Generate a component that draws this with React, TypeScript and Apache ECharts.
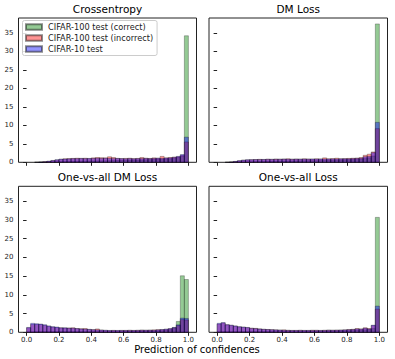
import React, { useEffect, useRef } from "react";
import * as echarts from "echarts";

// ---- data (density histograms, 40 bins over [0, 1]) ----
const BIN_COUNT = 40;
const PANEL_TITLES = ["Crossentropy", "DM Loss", "One-vs-all DM Loss", "One-vs-all Loss"];
const SERIES_NAMES = ["CIFAR-100 test (correct)", "CIFAR-100 test (incorrect)", "CIFAR-10 test"];
const X_TICKS = [0, 0.2, 0.4, 0.6, 0.8, 1.0];
const Y_TICKS = [0, 5, 10, 15, 20, 25, 30, 35];
const X_LABEL = "Prediction of confidences";

const CE_CORRECT = [
  0, 0, 0, 0.02, 0.05, 0.08, 0.1, 0.12,
  0.15, 0.18, 0.2, 0.22, 0.25, 0.27, 0.3, 0.32,
  0.34, 0.36, 0.38, 0.4, 0.42, 0.45, 0.48, 0.5,
  0.52, 0.55, 0.58, 0.6, 0.64, 0.68, 0.72, 0.76,
  0.8, 0.85, 0.9, 0.95, 1.1, 1.3, 1.7, 34.2,
];
const CE_INCORRECT = [
  0, 0, 0.01, 0.04, 0.12, 0.25, 0.45, 0.65,
  0.8, 0.95, 1.0, 1.05, 1.1, 1.05, 1.1, 1.0,
  1.2, 1.3, 1.25, 1.2, 1.5, 1.3, 1.05, 1.0,
  1.05, 1.1, 1.0, 1.05, 1.3, 1.1, 1.05, 1.2,
  1.1, 1.6, 1.2, 1.3, 1.4, 1.5, 1.9, 5.5,
];
const CE_CIFAR10 = [
  0, 0, 0.02, 0.05, 0.15, 0.3, 0.5, 0.7,
  0.85, 0.9, 0.95, 1.0, 1.0, 1.05, 1.0, 1.05,
  1.05, 1.1, 1.05, 1.1, 1.05, 1.0, 1.05, 1.0,
  0.95, 1.0, 0.95, 1.0, 1.0, 1.05, 1.0, 1.05,
  1.1, 1.05, 1.15, 1.2, 1.35, 1.6, 2.1, 6.8,
];

const DM_CORRECT = [
  0, 0, 0, 0.02, 0.05, 0.08, 0.1, 0.12,
  0.14, 0.16, 0.18, 0.2, 0.22, 0.24, 0.26, 0.28,
  0.3, 0.32, 0.34, 0.36, 0.38, 0.4, 0.42, 0.44,
  0.46, 0.48, 0.5, 0.52, 0.55, 0.58, 0.62, 0.66,
  0.7, 0.75, 0.8, 0.9, 1.0, 1.2, 1.7, 37.4,
];
const DM_INCORRECT = [
  0, 0, 0.01, 0.06, 0.2, 0.4, 0.55, 0.65,
  0.7, 0.75, 0.8, 0.75, 0.85, 0.8, 0.9, 0.85,
  0.9, 0.95, 0.85, 0.9, 0.85, 0.95, 0.9, 0.85,
  0.95, 0.9, 1.2, 0.95, 1.0, 1.1, 0.95, 1.0,
  1.05, 1.1, 1.15, 1.3, 1.9, 2.2, 2.8, 9.1,
];
const DM_CIFAR10 = [
  0, 0, 0.02, 0.08, 0.25, 0.45, 0.6, 0.7,
  0.72, 0.75, 0.75, 0.78, 0.8, 0.8, 0.8, 0.82,
  0.85, 0.85, 0.82, 0.85, 0.85, 0.88, 0.85, 0.9,
  0.88, 0.9, 0.88, 0.9, 0.92, 0.9, 0.95, 0.95,
  0.95, 1.0, 1.05, 1.1, 1.5, 1.6, 2.6, 10.8,
];

const OVADM_CORRECT = [
  0.05, 0.1, 0.12, 0.15, 0.15, 0.15, 0.15, 0.15,
  0.15, 0.15, 0.15, 0.15, 0.15, 0.15, 0.15, 0.15,
  0.15, 0.15, 0.15, 0.15, 0.15, 0.15, 0.15, 0.18,
  0.2, 0.2, 0.22, 0.22, 0.25, 0.25, 0.28, 0.3,
  0.35, 0.4, 0.5, 0.7, 1.2, 2.9, 15.1, 14.1,
];
const OVADM_INCORRECT = [
  1.2, 2.1, 2.1, 2.1, 1.9, 1.6, 1.4, 1.3,
  1.2, 1.15, 1.15, 1.2, 1.0, 0.95, 1.0, 0.75,
  0.7, 0.9, 0.6, 0.5, 0.45, 0.5, 0.45, 0.5,
  0.5, 0.55, 0.5, 0.55, 0.6, 0.55, 0.6, 0.65,
  0.7, 0.7, 0.8, 0.95, 1.2, 1.8, 3.4, 3.3,
];
const OVADM_CIFAR10 = [
  1.3, 2.4, 2.3, 2.2, 2.0, 1.7, 1.5, 1.4,
  1.2, 1.2, 1.1, 1.1, 1.0, 0.9, 0.85, 0.8,
  0.7, 0.65, 0.6, 0.55, 0.5, 0.5, 0.5, 0.5,
  0.5, 0.5, 0.5, 0.5, 0.55, 0.55, 0.55, 0.55,
  0.65, 0.75, 0.85, 1.0, 1.3, 2.0, 3.8, 3.7,
];

const OVA_CORRECT = [
  0.1, 0.15, 0.15, 0.15, 0.15, 0.15, 0.15, 0.15,
  0.15, 0.15, 0.15, 0.15, 0.15, 0.15, 0.15, 0.15,
  0.15, 0.15, 0.15, 0.15, 0.15, 0.18, 0.2, 0.2,
  0.22, 0.22, 0.25, 0.25, 0.28, 0.3, 0.32, 0.35,
  0.4, 0.45, 0.5, 0.55, 0.65, 0.7, 1.0, 30.7,
];
const OVA_INCORRECT = [
  2.2, 2.5, 2.0, 1.85, 1.65, 1.45, 1.35, 1.25,
  1.1, 1.05, 0.9, 0.8, 0.75, 0.7, 0.65, 0.6,
  0.65, 0.55, 0.5, 0.5, 0.55, 0.5, 0.5, 0.55,
  0.55, 0.5, 0.55, 0.6, 0.55, 0.6, 0.6, 0.65,
  0.75, 0.8, 1.0, 0.9, 1.2, 1.0, 1.8, 6.2,
];
const OVA_CIFAR10 = [
  2.4, 2.6, 2.05, 1.9, 1.7, 1.5, 1.4, 1.3,
  1.05, 1.0, 0.9, 0.8, 0.75, 0.7, 0.65, 0.6,
  0.55, 0.5, 0.5, 0.5, 0.5, 0.5, 0.5, 0.5,
  0.5, 0.5, 0.5, 0.55, 0.55, 0.55, 0.6, 0.65,
  0.7, 0.75, 0.9, 0.85, 1.1, 0.9, 1.9, 7.0,
];

const PANEL_DATA = [
  [CE_CORRECT, CE_INCORRECT, CE_CIFAR10],
  [DM_CORRECT, DM_INCORRECT, DM_CIFAR10],
  [OVADM_CORRECT, OVADM_INCORRECT, OVADM_CIFAR10],
  [OVA_CORRECT, OVA_INCORRECT, OVA_CIFAR10],
];

// ---- styling ----
const FILLS = ["rgba(0,128,0,0.42)", "rgba(255,0,0,0.42)", "rgba(0,0,255,0.42)"];
const EDGE = "rgba(0,0,0,0.45)";
const FONT = "DejaVu Sans";
const GRIDS = [
  { left: 18.5, top: 18, width: 178, height: 144.3 },
  { left: 209, top: 18, width: 178.5, height: 144.3 },
  { left: 18.5, top: 186.3, width: 178, height: 146 },
  { left: 209, top: 186.3, width: 178.5, height: 146 },
];

export default function App() {
  const ref = useRef<HTMLDivElement>(null);
  useEffect(() => {
    if (!ref.current) return;
    const chart = echarts.init(ref.current, null, { renderer: "svg" });

    const grid = GRIDS.map((g) => ({
      ...g,
      show: true,
      borderColor: "#222",
      borderWidth: 1,
      backgroundColor: "transparent",
      containLabel: false,
    }));

    const xAxis = GRIDS.map((_, k) => ({
      type: "value",
      gridIndex: k,
      min: -0.05,
      max: 1.05,
      splitLine: { show: false },
      axisLine: { show: false },
      axisTick: {
        show: true,
        customValues: X_TICKS,
        length: 3.5,
        lineStyle: { color: "#222", width: 1 },
      },
      axisLabel: {
        show: k >= 2,
        customValues: X_TICKS,
        formatter: (v: number) => v.toFixed(1),
        fontFamily: FONT,
        fontSize: 7,
        color: "#222",
        margin: 4.5,
      },
    }));

    const yAxis = GRIDS.map((_, k) => ({
      type: "value",
      gridIndex: k,
      min: 0,
      max: 39,
      splitLine: { show: false },
      axisLine: { show: false },
      axisTick: {
        show: true,
        customValues: Y_TICKS,
        length: 3.5,
        lineStyle: { color: "#222", width: 1 },
      },
      axisLabel: {
        show: k % 2 === 0,
        customValues: Y_TICKS,
        fontFamily: FONT,
        fontSize: 7,
        color: "#222",
        margin: 5,
      },
    }));

    const series: any[] = [];
    PANEL_DATA.forEach((sets, k) => {
      sets.forEach((vals, s) => {
        const data = vals.map((h, i) => [i / BIN_COUNT, (i + 1) / BIN_COUNT, h]);
        series.push({
          type: "custom",
          name: SERIES_NAMES[s],
          xAxisIndex: k,
          yAxisIndex: k,
          itemStyle: { color: FILLS[s], borderColor: EDGE, borderWidth: 0.6 },
          encode: { x: [0, 1], y: 2 },
          data,
          renderItem: (params: any, api: any) => {
            const h = api.value(2);
            if (!h) return null;
            const p0 = api.coord([api.value(0), h]);
            const p1 = api.coord([api.value(1), 0]);
            return {
              type: "rect",
              shape: { x: p0[0], y: p0[1], width: p1[0] - p0[0], height: p1[1] - p0[1] },
              style: { fill: FILLS[s], stroke: EDGE, lineWidth: 0.6 },
            };
          },
        });
      });
    });

    const title: any[] = PANEL_TITLES.map((t, k) => ({
      text: t,
      left: GRIDS[k].left + GRIDS[k].width / 2,
      top: GRIDS[k].top - 15,
      textAlign: "center",
      padding: 0,
      textStyle: { fontFamily: FONT, fontSize: 10.5, fontWeight: "normal", color: "#000" },
    }));
    title.push({
      text: X_LABEL,
      left: 197,
      top: 344.5,
      textAlign: "center",
      padding: 0,
      textStyle: { fontFamily: FONT, fontSize: 10, fontWeight: "normal", color: "#000", lineHeight: 10 },
    });

    chart.setOption({
      animation: false,
      backgroundColor: "#fff",
      title,
      grid,
      xAxis,
      yAxis,
      legend: {
        data: SERIES_NAMES,
        orient: "vertical",
        left: 22.5,
        top: 20.5,
        icon: "rect",
        itemWidth: 16,
        itemHeight: 5.5,
        itemGap: 3,
        padding: [2.5, 4, 2.5, 2.5],
        backgroundColor: "rgba(255,255,255,0.85)",
        borderColor: "#ccc",
        borderWidth: 1,
        borderRadius: 2,
        textStyle: { fontFamily: FONT, fontSize: 8.2, color: "#222", lineHeight: 8, padding: [0, 0, 0, 1] },
      },
      series,
    });

    return () => chart.dispose();
  }, []);

  return (
    <div
      ref={ref}
      style={{ position: "fixed", left: 0, top: 0, width: 395, height: 359 }}
    />
  );
}
